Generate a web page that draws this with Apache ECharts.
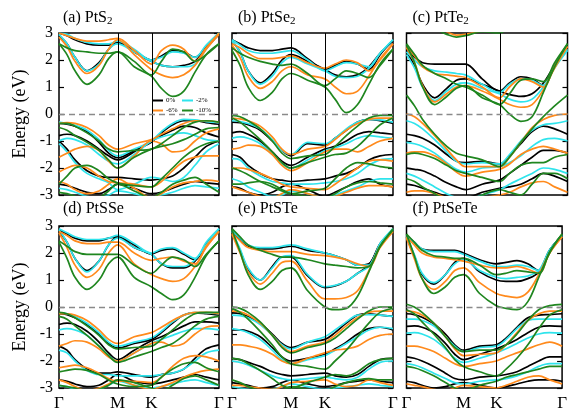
<!DOCTYPE html>
<html>
<head>
<meta charset="utf-8">
<script src="https://cdn.jsdelivr.net/npm/echarts@6/dist/echarts.min.js"></script>
<style>
  html, body { margin: 0; padding: 0; background: #fff; }
  #chart { width: 570px; height: 412px; }
</style>
</head>
<body>
<div id="chart"></div>
<script>
// k-path sampling (fraction of the Γ-M-K-Γ path length)
const kGrid = [0, 0.05, 0.1, 0.175, 0.25, 0.31, 0.366, 0.47, 0.577, 0.64, 0.71, 0.78, 0.85, 0.92, 1];
const kPath = [0, 0.366, 0.577, 1];
const kLabels = ['Γ', 'M', 'K', 'Γ'];
const strains = ['0%', '-2%', '-6%', '-10%'];
const panelTitles = [['(a) PtS', '2'], ['(b) PtSe', '2'], ['(c) PtTe', '2'], ['(d) PtSSe', ''], ['(e) PtSTe', ''], ['(f) PtSeTe', '']];

// ---- (a) PtS2 : bands in eV on kGrid ----
const a0 = [
  [2.9, 2.6, 2.1, 1.6, 1.9, 2.4, 2.65, 2.3, 1.95, 1.8, 1.75, 1.8, 1.95, 2.45, 2.95],
  [3.0, 2.9, 2.75, 2.6, 2.55, 2.55, 2.65, 2.35, 2.0, 2.15, 2.35, 2.3, 2.1, 2.5, 3.0],
  [-0.35, -0.38, -0.45, -0.65, -1.05, -1.45, -1.62, -1.35, -1.05, -0.7, -0.4, -0.25, -0.25, -0.32, -0.38],
  [-0.8, -0.75, -0.8, -1.0, -1.3, -1.55, -1.7, -1.4, -1.0, -0.8, -0.6, -0.45, -0.5, -0.7, -0.85],
  [-1.0, -1.3, -1.7, -2.1, -2.3, -2.35, -2.35, -2.4, -2.45, -2.4, -2.3, -2.0, -1.6, -1.2, -1.0],
  [-2.6, -2.65, -2.75, -2.9, -2.95, -2.8, -2.6, -2.75, -2.95, -2.9, -2.75, -2.6, -2.5, -2.55, -2.6]
];
const a2 = [
  [2.95, 2.6, 2.1, 1.6, 1.85, 2.4, 2.6, 2.3, 1.95, 1.8, 1.75, 1.75, 1.85, 2.4, 3.0],
  [3.0, 2.95, 2.8, 2.65, 2.6, 2.6, 2.7, 2.4, 2.0, 2.1, 2.3, 2.25, 2.1, 2.55, 3.0],
  [-0.3, -0.35, -0.42, -0.6, -0.95, -1.35, -1.55, -1.3, -1.0, -0.65, -0.35, -0.2, -0.22, -0.28, -0.32],
  [-1.0, -0.9, -0.95, -1.15, -1.5, -1.75, -1.85, -1.5, -1.0, -0.85, -0.75, -0.7, -0.8, -0.95, -1.0],
  [-1.1, -1.4, -1.8, -2.2, -2.4, -2.55, -2.8, -2.6, -2.35, -2.4, -2.5, -2.35, -1.9, -1.4, -1.1],
  [-2.75, -2.8, -2.9, -3.05, -3.1, -3.0, -2.85, -2.95, -3.1, -3.0, -2.9, -2.75, -2.65, -2.7, -2.75]
];
const a6 = [
  [2.85, 2.5, 1.95, 1.5, 1.8, 2.4, 2.75, 2.2, 1.65, 1.45, 1.35, 1.45, 1.8, 2.4, 2.95],
  [3.0, 2.9, 2.8, 2.7, 2.7, 2.75, 2.8, 2.35, 1.85, 2.35, 2.55, 2.4, 1.95, 2.45, 3.0],
  [-0.35, -0.32, -0.35, -0.5, -0.8, -1.15, -1.3, -1.1, -0.95, -0.75, -0.55, -0.35, -0.25, -0.25, -0.3],
  [-1.6, -1.45, -1.3, -1.2, -1.35, -1.75, -2.0, -1.55, -1.0, -1.1, -1.4, -1.35, -1.0, -0.7, -0.55],
  [-2.15, -2.0, -1.9, -2.0, -2.3, -2.5, -2.55, -2.6, -2.7, -2.5, -2.1, -1.75, -1.6, -1.55, -1.55],
  [-2.5, -2.6, -2.8, -2.95, -2.85, -2.6, -2.4, -2.75, -3.1, -2.95, -2.7, -2.55, -2.5, -2.45, -2.5]
];
const a10 = [
  [2.6, 2.2, 1.6, 1.1, 1.45, 2.05, 2.3, 1.75, 1.4, 0.95, 0.65, 0.85, 1.55, 2.2, 2.6],
  [2.6, 2.45, 2.35, 2.3, 2.25, 2.25, 2.3, 1.95, 1.45, 1.95, 2.4, 2.3, 1.95, 2.2, 2.6],
  [-0.35, -0.35, -0.45, -0.7, -1.0, -1.3, -1.4, -1.35, -1.3, -1.1, -0.8, -0.5, -0.3, -0.25, -0.3],
  [-0.5, -0.6, -0.8, -1.05, -1.35, -1.7, -2.0, -1.6, -1.3, -1.2, -1.1, -0.95, -0.75, -0.55, -0.5],
  [-2.6, -2.3, -2.0, -1.9, -2.1, -2.4, -2.55, -2.65, -2.7, -2.4, -2.0, -1.6, -1.3, -1.1, -1.0],
  [-2.9, -2.95, -3.05, -3.2, -3.1, -2.85, -2.6, -2.85, -3.1, -2.9, -2.6, -2.45, -2.35, -2.6, -2.9]
];

// ---- (b) PtSe2 ----
const b0 = [
  [2.7, 2.3, 1.6, 1.15, 1.5, 2.0, 2.2, 1.95, 1.65, 1.45, 1.38, 1.45, 1.75, 2.25, 2.7],
  [2.75, 2.6, 2.45, 2.35, 2.35, 2.4, 2.45, 2.05, 1.65, 1.8, 1.95, 1.85, 1.65, 2.2, 2.75],
  [-0.3, -0.32, -0.4, -0.6, -1.0, -1.35, -1.55, -1.1, -1.15, -0.9, -0.6, -0.3, -0.2, -0.25, -0.35],
  [-0.7, -0.65, -0.75, -1.0, -1.4, -1.75, -1.9, -1.6, -1.3, -1.2, -1.0, -0.75, -0.65, -0.7, -0.75],
  [-1.5, -1.6, -1.9, -2.2, -2.4, -2.45, -2.5, -2.45, -2.4, -2.3, -2.2, -2.0, -1.7, -1.55, -1.5],
  [-2.7, -2.75, -2.9, -3.0, -2.9, -2.7, -2.6, -2.8, -3.05, -2.9, -2.7, -2.5, -2.4, -2.6, -2.7]
];
const b2 = [
  [2.7, 2.3, 1.6, 1.1, 1.4, 1.9, 2.1, 1.85, 1.6, 1.4, 1.35, 1.4, 1.7, 2.25, 2.75],
  [2.75, 2.55, 2.35, 2.25, 2.25, 2.3, 2.35, 2.0, 1.6, 1.75, 1.9, 1.85, 1.75, 2.25, 2.75],
  [-0.25, -0.28, -0.35, -0.55, -0.95, -1.35, -1.5, -1.05, -1.1, -0.9, -0.55, -0.3, -0.2, -0.22, -0.3],
  [-0.9, -0.85, -0.9, -1.1, -1.5, -1.85, -2.0, -1.7, -1.35, -1.25, -1.1, -0.9, -0.8, -0.85, -0.9],
  [-1.65, -1.7, -2.0, -2.3, -2.5, -2.55, -2.6, -2.6, -2.55, -2.5, -2.4, -2.2, -1.9, -1.7, -1.65],
  [-2.4, -2.5, -2.7, -2.9, -3.05, -3.0, -2.85, -2.95, -3.1, -3.0, -2.85, -2.7, -2.5, -2.4, -2.4]
];
const b6 = [
  [2.55, 2.1, 1.4, 0.95, 1.2, 1.6, 1.75, 1.45, 1.3, 1.0, 0.75, 0.85, 1.4, 2.05, 2.6],
  [2.6, 2.45, 2.25, 2.05, 2.05, 2.1, 2.15, 1.9, 1.7, 1.85, 2.0, 1.9, 1.6, 2.0, 2.6],
  [-0.15, -0.18, -0.25, -0.45, -0.85, -1.3, -1.5, -1.3, -1.2, -0.95, -0.6, -0.35, -0.2, -0.15, -0.15],
  [-1.3, -1.25, -1.15, -1.2, -1.5, -1.9, -2.1, -1.8, -1.4, -1.3, -1.3, -1.4, -1.2, -1.0, -0.9],
  [-2.0, -2.0, -2.05, -2.2, -2.4, -2.6, -2.7, -2.75, -2.8, -2.6, -2.3, -2.0, -1.75, -1.7, -1.75],
  [-2.7, -2.8, -2.9, -3.05, -3.1, -2.95, -2.8, -2.95, -3.1, -3.05, -2.9, -2.75, -2.65, -2.65, -2.7]
];
const b10 = [
  [2.35, 1.8, 1.0, 0.5, 0.8, 1.3, 1.5, 1.25, 1.0, 0.55, 0.05, 0.35, 1.1, 1.85, 2.4],
  [2.45, 2.25, 2.1, 1.95, 1.85, 1.8, 1.85, 1.5, 1.05, 1.3, 1.6, 1.5, 1.35, 1.8, 2.4],
  [-0.05, -0.1, -0.25, -0.55, -1.0, -1.45, -1.65, -1.55, -1.5, -1.2, -0.8, -0.45, -0.15, -0.05, -0.05],
  [-0.15, -0.3, -0.55, -0.95, -1.4, -1.8, -2.0, -1.8, -1.6, -1.5, -1.45, -1.2, -0.8, -0.4, -0.15],
  [-2.0, -2.1, -2.25, -2.5, -2.7, -2.85, -2.95, -2.85, -2.75, -2.4, -2.0, -1.8, -1.85, -1.95, -2.0],
  [-2.6, -2.6, -2.55, -2.5, -2.6, -2.8, -2.95, -3.05, -3.1, -2.95, -2.7, -2.55, -2.5, -2.55, -2.6]
];

// ---- (c) PtTe2 ----
const c0 = [
  [2.3, 1.8, 1.1, 0.6, 0.95, 1.25, 1.3, 1.1, 0.85, 0.72, 0.65, 0.75, 1.15, 1.8, 2.4],
  [2.4, 2.1, 1.9, 1.85, 1.85, 1.85, 1.85, 1.3, 0.85, 1.15, 1.38, 1.3, 1.05, 1.8, 2.45],
  [-0.75, -0.8, -0.9, -1.15, -1.5, -1.75, -1.8, -1.75, -1.85, -1.55, -1.1, -0.65, -0.45, -0.55, -0.75],
  [-2.0, -2.05, -2.1, -2.3, -2.55, -2.7, -2.8, -2.6, -2.45, -2.2, -1.9, -1.6, -1.35, -1.35, -1.45],
  [-2.6, -2.65, -2.75, -2.9, -3.05, -3.1, -3.1, -2.9, -2.75, -2.7, -2.6, -2.4, -2.2, -2.3, -2.5]
];
const c2 = [
  [2.2, 1.7, 1.0, 0.5, 0.85, 1.1, 1.15, 0.95, 0.75, 0.55, 0.45, 0.55, 1.0, 1.7, 2.35],
  [2.3, 2.0, 1.75, 1.6, 1.55, 1.5, 1.45, 1.1, 0.8, 1.1, 1.3, 1.25, 1.05, 1.75, 2.4],
  [-0.25, -0.35, -0.55, -0.95, -1.4, -1.75, -1.85, -1.8, -1.85, -1.5, -1.0, -0.6, -0.4, -0.35, -0.25],
  [-1.05, -1.1, -1.2, -1.45, -1.8, -2.05, -2.15, -2.0, -1.95, -1.8, -1.55, -1.2, -0.95, -0.9, -1.0],
  [-2.2, -2.3, -2.45, -2.7, -2.95, -3.1, -3.2, -3.0, -2.8, -2.6, -2.4, -2.2, -2.0, -2.05, -2.2]
];
const c6 = [
  [2.45, 1.9, 1.05, 0.45, 0.75, 1.0, 1.05, 0.85, 0.55, 0.35, 0.25, 0.35, 0.9, 1.7, 2.5],
  [2.5, 2.15, 1.75, 1.5, 1.45, 1.4, 1.35, 1.0, 0.6, 1.0, 1.3, 1.2, 1.0, 1.8, 2.5],
  [3.6, 3.5, 3.4, 3.25, 3.05, 2.92, 2.95, 3.1, 3.3, 3.5, 3.6, 3.7, 3.7, 3.7, 3.6],
  [0.0, -0.1, -0.35, -0.8, -1.3, -1.7, -1.95, -1.95, -1.95, -1.6, -1.05, -0.5, -0.2, -0.05, 0.0],
  [-1.45, -1.4, -1.4, -1.55, -1.85, -2.15, -2.3, -2.15, -2.05, -1.85, -1.5, -1.3, -1.2, -1.3, -1.45],
  [-2.9, -2.85, -2.85, -2.95, -3.1, -3.2, -3.2, -3.1, -3.0, -2.9, -2.7, -2.55, -2.5, -2.7, -2.9]
];
const c10 = [
  [2.55, 1.9, 1.0, 0.35, 0.65, 0.95, 1.05, 0.6, 0.35, 0.0, -0.27, -0.1, 0.8, 1.75, 2.6],
  [2.6, 2.2, 1.8, 1.5, 1.3, 1.1, 1.0, 0.7, 0.35, 0.75, 1.25, 1.3, 1.2, 1.9, 2.6],
  [3.5, 3.4, 3.3, 3.15, 2.95, 2.85, 2.9, 3.05, 3.0, 3.2, 3.4, 3.5, 3.6, 3.6, 3.5],
  [0.7, 0.3, -0.2, -0.75, -1.2, -1.45, -1.55, -1.7, -1.95, -1.6, -1.05, -0.55, -0.1, 0.3, 0.7],
  [-1.5, -1.45, -1.5, -1.65, -1.9, -2.1, -2.2, -2.35, -2.5, -2.2, -1.9, -1.8, -1.8, -1.6, -1.5],
  [-2.4, -2.5, -2.7, -2.95, -3.2, -3.3, -3.3, -3.0, -2.8, -2.9, -3.0, -2.6, -2.2, -2.2, -2.4]
];

// ---- (d) PtSSe ----
const d0 = [
  [2.8, 2.4, 1.8, 1.35, 1.7, 2.3, 2.6, 2.2, 1.95, 1.6, 1.45, 1.45, 1.7, 2.3, 2.85],
  [2.85, 2.7, 2.55, 2.45, 2.45, 2.55, 2.6, 2.3, 1.97, 2.1, 2.15, 1.95, 1.75, 2.35, 2.85],
  [-0.25, -0.28, -0.4, -0.65, -1.0, -1.35, -1.52, -1.35, -1.2, -0.95, -0.6, -0.3, -0.22, -0.25, -0.3],
  [-0.65, -0.6, -0.65, -0.9, -1.3, -1.7, -1.95, -1.6, -1.25, -1.1, -0.9, -0.7, -0.55, -0.55, -0.6],
  [-1.45, -1.6, -1.95, -2.3, -2.45, -2.45, -2.4, -2.5, -2.6, -2.5, -2.45, -2.3, -1.9, -1.55, -1.4],
  [-2.7, -2.75, -2.85, -2.95, -2.9, -2.7, -2.5, -2.75, -2.85, -2.8, -2.7, -2.6, -2.5, -2.6, -2.7]
];
const d2 = [
  [2.85, 2.4, 1.8, 1.3, 1.7, 2.3, 2.55, 2.2, 1.95, 1.6, 1.5, 1.5, 1.75, 2.3, 2.9],
  [2.9, 2.75, 2.6, 2.5, 2.5, 2.55, 2.65, 2.35, 2.0, 2.15, 2.2, 2.0, 1.8, 2.4, 2.9],
  [-0.22, -0.25, -0.35, -0.6, -0.95, -1.3, -1.45, -1.3, -1.15, -0.9, -0.55, -0.3, -0.2, -0.22, -0.25],
  [-0.85, -0.8, -0.85, -1.05, -1.45, -1.8, -2.0, -1.7, -1.35, -1.2, -1.05, -0.9, -0.8, -0.8, -0.85],
  [-1.6, -1.7, -2.0, -2.35, -2.5, -2.5, -2.55, -2.55, -2.55, -2.5, -2.45, -2.3, -2.0, -1.7, -1.6],
  [-2.9, -2.95, -3.05, -3.1, -3.05, -2.9, -2.75, -2.9, -3.0, -2.95, -2.85, -2.75, -2.7, -2.8, -2.9]
];
const d6 = [
  [2.75, 2.2, 1.55, 1.1, 1.4, 2.0, 2.3, 1.6, 1.2, 1.05, 0.95, 1.05, 1.5, 2.2, 2.8],
  [2.8, 2.65, 2.45, 2.35, 2.35, 2.4, 2.4, 2.0, 1.73, 1.8, 1.85, 1.7, 1.6, 2.25, 2.8],
  [-0.25, -0.25, -0.3, -0.5, -0.85, -1.2, -1.35, -1.1, -0.95, -0.75, -0.5, -0.3, -0.2, -0.2, -0.25],
  [-1.45, -1.35, -1.25, -1.3, -1.55, -1.85, -2.0, -1.7, -1.35, -1.3, -1.45, -1.35, -1.0, -0.75, -0.7],
  [-2.25, -2.2, -2.15, -2.25, -2.45, -2.65, -2.75, -2.75, -2.8, -2.6, -2.2, -1.9, -1.8, -1.85, -2.0],
  [-2.7, -2.8, -2.95, -3.1, -3.0, -2.85, -2.7, -2.9, -3.05, -2.95, -2.8, -2.6, -2.45, -2.35, -2.3]
];
const d10 = [
  [2.4, 1.8, 1.1, 0.65, 1.0, 1.6, 1.85, 1.1, 0.75, 0.5, 0.27, 0.45, 1.1, 1.9, 2.45],
  [2.45, 2.25, 2.05, 1.95, 1.95, 1.95, 1.95, 1.55, 1.25, 1.55, 1.85, 1.75, 1.5, 1.95, 2.45],
  [-0.2, -0.25, -0.4, -0.7, -1.05, -1.4, -1.55, -1.5, -1.45, -1.2, -0.85, -0.5, -0.25, -0.2, -0.2],
  [-0.35, -0.45, -0.7, -1.05, -1.45, -1.8, -2.05, -1.85, -1.65, -1.5, -1.35, -1.05, -0.7, -0.45, -0.35],
  [-2.4, -2.35, -2.3, -2.35, -2.5, -2.7, -2.85, -2.95, -2.9, -2.6, -2.3, -2.1, -2.05, -2.25, -2.4],
  [-2.9, -2.95, -3.0, -3.1, -3.05, -2.9, -2.7, -2.8, -3.0, -3.1, -2.9, -2.65, -2.55, -2.7, -2.9]
];

// ---- (e) PtSTe ----
const e0 = [
  [2.75, 2.1, 1.4, 1.0, 1.5, 1.85, 1.85, 1.15, 0.72, 0.78, 0.95, 1.25, 1.55, 2.3, 2.8],
  [2.8, 2.5, 2.25, 2.15, 2.15, 2.2, 2.25, 2.1, 2.0, 1.9, 1.75, 1.55, 1.6, 2.35, 2.85],
  [-0.22, -0.25, -0.35, -0.6, -1.0, -1.35, -1.5, -1.3, -1.2, -0.95, -0.6, -0.3, -0.25, -0.3, -0.35],
  [-0.85, -0.85, -0.9, -1.1, -1.5, -1.85, -2.0, -1.9, -1.75, -1.55, -1.3, -1.0, -0.8, -0.75, -0.85],
  [-1.9, -1.95, -2.05, -2.2, -2.4, -2.5, -2.55, -2.5, -2.45, -2.55, -2.6, -2.5, -2.2, -1.95, -1.9],
  [-2.8, -2.85, -2.9, -3.0, -2.95, -2.8, -2.7, -2.85, -2.95, -2.9, -2.8, -2.75, -2.7, -2.75, -2.8]
];
const e2 = [
  [2.8, 2.15, 1.45, 1.0, 1.45, 1.85, 1.9, 1.2, 0.75, 0.8, 0.95, 1.25, 1.5, 2.3, 2.85],
  [2.85, 2.55, 2.3, 2.2, 2.2, 2.25, 2.3, 2.15, 2.0, 1.9, 1.75, 1.55, 1.55, 2.35, 2.9],
  [-0.3, -0.32, -0.4, -0.65, -1.05, -1.4, -1.55, -1.3, -1.1, -0.85, -0.55, -0.3, -0.28, -0.3, -0.35],
  [-0.8, -0.85, -0.95, -1.2, -1.6, -1.95, -2.1, -1.95, -1.8, -1.6, -1.35, -1.1, -0.85, -0.75, -0.8],
  [-2.0, -2.05, -2.15, -2.35, -2.55, -2.65, -2.7, -2.65, -2.6, -2.65, -2.7, -2.6, -2.3, -2.05, -2.0],
  [-2.95, -3.0, -3.05, -3.1, -3.05, -2.95, -2.85, -2.95, -3.05, -3.0, -2.95, -2.9, -2.85, -2.9, -2.95]
];
const e6 = [
  [2.7, 2.0, 1.3, 0.85, 1.25, 1.65, 1.7, 0.95, 0.3, 0.3, 0.35, 0.6, 1.35, 2.25, 2.8],
  [2.75, 2.45, 2.2, 2.1, 2.05, 2.05, 2.05, 1.95, 1.9, 1.85, 1.75, 1.6, 1.5, 2.2, 2.8],
  [-0.15, -0.18, -0.3, -0.6, -1.05, -1.45, -1.65, -1.45, -1.3, -1.05, -0.7, -0.4, -0.2, -0.15, -0.15],
  [-1.4, -1.4, -1.45, -1.55, -1.75, -2.0, -2.1, -1.9, -1.7, -1.6, -1.55, -1.45, -1.2, -1.05, -1.0],
  [-2.9, -2.9, -2.95, -3.0, -3.05, -2.95, -2.8, -2.75, -2.7, -2.85, -2.95, -2.9, -2.7, -2.8, -2.9]
];
const e10 = [
  [2.85, 2.05, 1.2, 0.65, 0.95, 1.35, 1.45, 0.6, 0.0, -0.1, -0.05, 0.4, 1.3, 2.25, 2.85],
  [2.9, 2.6, 2.3, 2.1, 1.95, 1.85, 1.85, 1.75, 1.6, 1.55, 1.5, 1.45, 1.5, 2.25, 2.9],
  [0.0, -0.05, -0.2, -0.55, -1.05, -1.5, -1.7, -1.5, -1.35, -1.15, -0.8, -0.45, -0.15, 0.0, 0.0],
  [-0.05, -0.2, -0.45, -0.9, -1.4, -1.85, -2.1, -2.2, -2.3, -2.0, -1.6, -1.1, -0.6, -0.2, -0.05],
  [-1.9, -1.95, -2.1, -2.35, -2.65, -2.9, -3.0, -2.8, -2.6, -2.5, -2.55, -2.4, -2.1, -1.95, -1.9],
  [-2.7, -2.8, -2.95, -3.1, -3.2, -3.1, -2.95, -3.05, -3.1, -2.95, -2.8, -2.7, -2.65, -2.7, -2.7]
];

// ---- (f) PtSeTe ----
const f0 = [
  [2.6, 1.9, 1.2, 0.85, 1.2, 1.65, 1.8, 1.3, 1.0, 0.95, 0.95, 1.05, 1.3, 2.1, 2.65],
  [2.65, 2.4, 2.15, 2.1, 2.1, 2.1, 2.0, 1.75, 1.6, 1.65, 1.72, 1.6, 1.35, 2.1, 2.65],
  [-0.25, -0.28, -0.38, -0.62, -1.0, -1.4, -1.6, -1.45, -1.4, -1.15, -0.75, -0.4, -0.3, -0.28, -0.25],
  [-0.72, -0.7, -0.75, -0.95, -1.35, -1.75, -1.95, -1.75, -1.55, -1.4, -1.2, -0.95, -0.75, -0.7, -0.72],
  [-1.85, -1.9, -2.0, -2.2, -2.45, -2.65, -2.7, -2.6, -2.55, -2.5, -2.4, -2.2, -2.0, -1.85, -1.85],
  [-2.75, -2.8, -2.9, -3.0, -2.95, -2.85, -2.8, -2.9, -3.0, -2.95, -2.85, -2.75, -2.7, -2.7, -2.75]
];
const f2 = [
  [2.6, 1.95, 1.25, 0.9, 1.2, 1.6, 1.75, 1.35, 1.1, 1.05, 1.1, 1.15, 1.35, 2.1, 2.65],
  [2.65, 2.4, 2.15, 2.05, 2.05, 2.05, 1.95, 1.7, 1.5, 1.5, 1.55, 1.5, 1.35, 2.1, 2.65],
  [-0.45, -0.45, -0.5, -0.7, -1.1, -1.45, -1.65, -1.5, -1.45, -1.2, -0.8, -0.5, -0.45, -0.45, -0.45],
  [-0.97, -0.95, -1.0, -1.2, -1.55, -1.9, -2.05, -1.9, -1.7, -1.55, -1.35, -1.15, -1.0, -0.95, -0.97],
  [-2.1, -2.15, -2.25, -2.45, -2.65, -2.8, -2.85, -2.75, -2.7, -2.65, -2.55, -2.4, -2.2, -2.1, -2.1]
];
const f6 = [
  [2.55, 1.8, 1.05, 0.65, 0.95, 1.35, 1.45, 0.9, 0.5, 0.4, 0.35, 0.55, 1.2, 2.0, 2.6],
  [2.6, 2.3, 2.0, 1.85, 1.8, 1.75, 1.7, 1.55, 1.45, 1.45, 1.5, 1.4, 1.25, 2.0, 2.6],
  [-0.15, -0.18, -0.3, -0.6, -1.1, -1.55, -1.8, -1.75, -1.7, -1.4, -0.95, -0.5, -0.25, -0.15, -0.15],
  [-1.45, -1.45, -1.5, -1.65, -1.9, -2.1, -2.2, -2.1, -2.0, -1.85, -1.7, -1.55, -1.4, -1.3, -1.45],
  [-2.85, -2.9, -2.95, -3.05, -3.1, -3.0, -2.9, -2.95, -3.0, -2.9, -2.75, -2.6, -2.55, -2.7, -2.85]
];
const f10 = [
  [2.7, 1.9, 1.05, 0.5, 0.75, 1.1, 1.2, 0.5, 0.05, -0.05, -0.1, 0.2, 1.1, 2.0, 2.7],
  [2.7, 2.4, 2.1, 1.9, 1.85, 1.8, 1.8, 1.55, 1.2, 1.25, 1.35, 1.3, 1.25, 2.05, 2.7],
  [0.1, 0.0, -0.2, -0.6, -1.1, -1.5, -1.65, -1.6, -1.6, -1.4, -1.0, -0.5, -0.1, 0.05, 0.1],
  [-0.1, -0.25, -0.55, -1.0, -1.5, -1.95, -2.2, -2.4, -2.55, -2.3, -1.9, -1.4, -0.8, -0.3, -0.1],
  [-2.2, -2.25, -2.35, -2.55, -2.8, -3.0, -3.1, -2.9, -2.75, -2.6, -2.5, -2.4, -2.3, -2.2, -2.2]
];

const panels = [
  [a0, a2, a6, a10], [b0, b2, b6, b10], [c0, c2, c6, c10],
  [d0, d2, d6, d10], [e0, e2, e6, e10], [f0, f2, f6, f10]
];

// ---- styling ----
const serif = '"Liberation Serif", "Times New Roman", "DejaVu Serif", serif';
const colors = ['#000000', '#2fe4ec', '#ff8a1c', '#1f861f'];
const boxes = [
  { left: 59, top: 33, width: 160, height: 162 },
  { left: 232, top: 33, width: 161, height: 162 },
  { left: 406.5, top: 33, width: 161, height: 162 },
  { left: 59, top: 226, width: 160, height: 162.5 },
  { left: 232, top: 226, width: 161, height: 162.5 },
  { left: 406.5, top: 226, width: 161, height: 162.5 }
];

const grid = [], xAxis = [], yAxis = [], series = [], title = [];

boxes.forEach((b, p) => {
  const isLeft = p % 3 === 0;
  const isBottom = p >= 3;
  grid.push(Object.assign({ show: true, borderColor: '#000', borderWidth: 1.5, backgroundColor: 'transparent' }, b));

  xAxis.push({
    type: 'value', gridIndex: p, min: 0, max: 1,
    axisLine: { show: false }, axisTick: { show: false }, splitLine: { show: false },
    axisLabel: {
      show: isBottom, customValues: kPath, margin: 7,
      fontFamily: serif, fontSize: 17, color: '#000',
      formatter: v => { const i = kPath.findIndex(k => Math.abs(k - v) < 1e-6); return i >= 0 ? kLabels[i] : ''; }
    }
  });

  const yBase = {
    type: 'value', gridIndex: p, min: -3, max: 3, interval: 1,
    axisLine: { show: false }, splitLine: { show: false },
    axisTick: { show: true, inside: true, length: 5, lineStyle: { color: '#000', width: 1.2 } }
  };
  yAxis.push(Object.assign({}, yBase, {
    position: 'left',
    name: isLeft ? 'Energy (eV)' : '', nameLocation: 'middle', nameGap: 30,
    nameTextStyle: { fontFamily: serif, fontSize: 18, color: '#000' },
    axisLabel: { show: isLeft, margin: 6, fontFamily: serif, fontSize: 16, color: '#000' }
  }));
  yAxis.push(Object.assign({}, yBase, { position: 'right', axisLabel: { show: false } }));

  // path markers: high-symmetry verticals and the Fermi level
  series.push({
    type: 'line', xAxisIndex: p, yAxisIndex: 2 * p, data: [], silent: true,
    markLine: {
      silent: true, symbol: 'none', animation: false, label: { show: false },
      data: [
        { xAxis: kPath[1], lineStyle: { color: '#000', width: 1, type: 'solid' } },
        { xAxis: kPath[2], lineStyle: { color: '#000', width: 1, type: 'solid' } },
        { yAxis: 0, lineStyle: { color: '#8a8a8a', width: 1.3, type: [6, 4] } }
      ]
    }
  });

  panels[p].forEach((bands, s) => {
    bands.forEach(band => {
      series.push({
        type: 'line', name: strains[s], xAxisIndex: p, yAxisIndex: 2 * p,
        data: kGrid.map((k, i) => [k, band[i]]),
        smooth: 0.35, showSymbol: false, silent: true, clip: true,
        lineStyle: { color: colors[s], width: 1.7 },
        itemStyle: { color: colors[s] }
      });
    });
  });

  title.push({
    text: panelTitles[p][1] ? panelTitles[p][0] + '{s|' + panelTitles[p][1] + '}' : panelTitles[p][0],
    left: b.left + (isLeft ? 4 : 6), top: b.top - 25, padding: 0,
    textStyle: {
      fontFamily: serif, fontSize: 16, fontWeight: 'normal', color: '#000',
      rich: { s: { fontFamily: serif, fontSize: 11, color: '#000', padding: [8, 0, 0, 0] } }
    }
  });
});

const legendPos = [[152, 97], [182, 97], [152, 107], [182, 107]];
const legend = strains.map((name, i) => ({
  data: [name], left: legendPos[i][0], top: legendPos[i][1], padding: 0,
  icon: 'rect', itemWidth: 11, itemHeight: 2, itemGap: 0, selectedMode: false,
  textStyle: { fontFamily: serif, fontSize: 7, color: '#000', padding: [0, 0, 0, -2] }
}));

const chart = echarts.init(document.getElementById('chart'), null, { renderer: 'canvas' });
chart.setOption({ animation: false, backgroundColor: '#fff', title, legend, grid, xAxis, yAxis, series });
</script>
</body>
</html>
